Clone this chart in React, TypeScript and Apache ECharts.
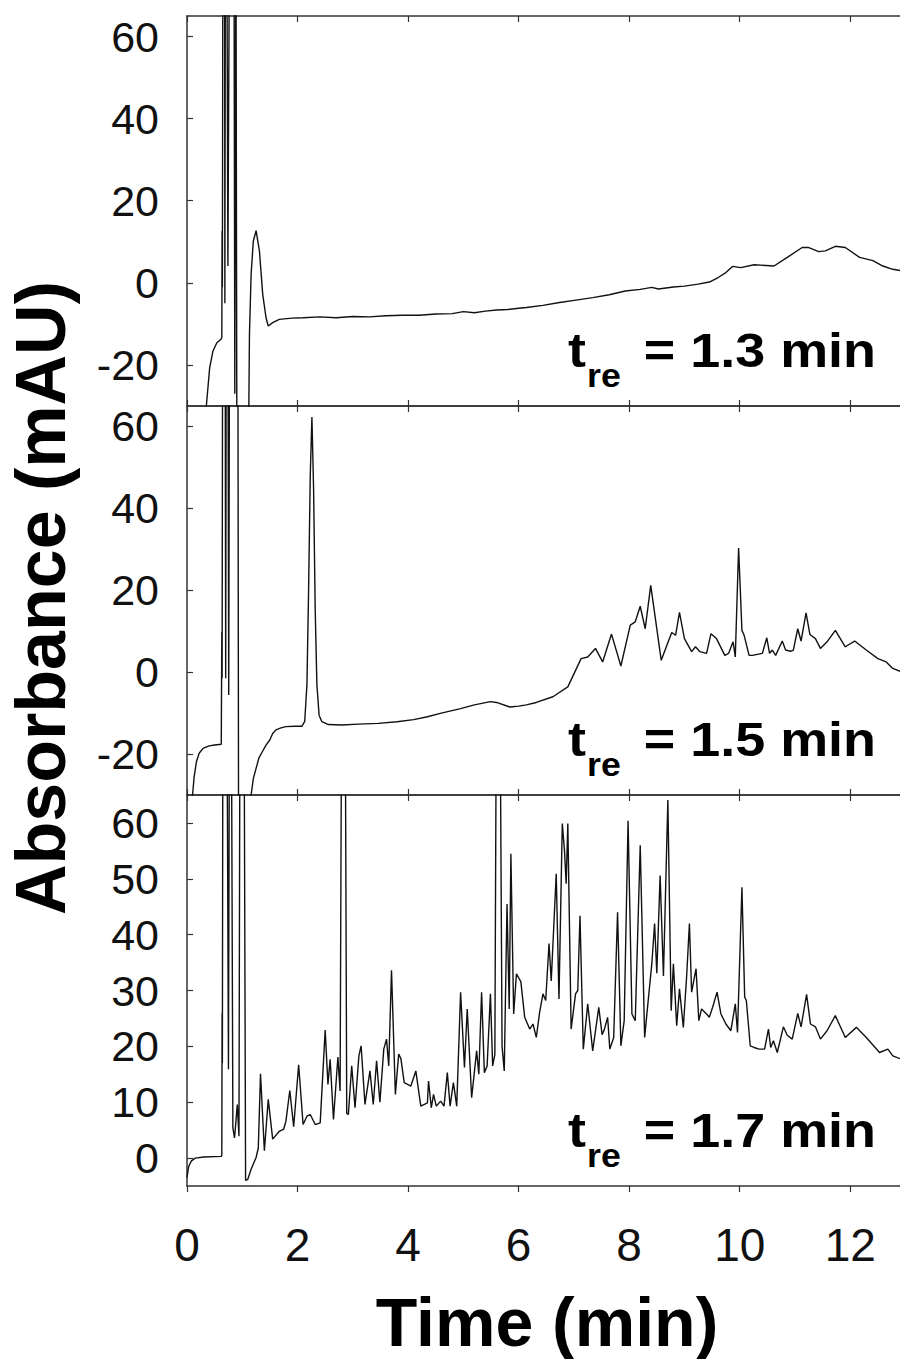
import React, { useEffect, useRef } from "react";
import * as echarts from "echarts";

const FONT = "'Liberation Sans', Arial, Helvetica, sans-serif";

// x axis (Time, min)
const timeTicks = [0, 2, 4, 6, 8, 10, 12];
const xMin = 0;
const xMax = 12.9;

// y axes (Absorbance, mAU)
const yTicksTop = [-20, 0, 20, 40, 60];
const yTicksBottom = [0, 10, 20, 30, 40, 50, 60];

const panelLabels = ["1.3", "1.5", "1.7"];

// values above/below the plotted window are off-scale and clipped
const trace13: [number, number][] = [
  [0, -60], [0.3, -45], [0.35, -30], [0.41, -20.7], [0.47, -16.6], [0.54, -14.6], [0.62, -13.7],
  [0.63, -13.2], [0.635, 12.7], [0.64, -1], [0.65, 90], [0.68, 90], [0.685, -5], [0.695, 90],
  [0.72, 90], [0.74, 4.1], [0.77, 90], [0.85, 90], [0.865, -27], [0.885, 90], [0.895, 90],
  [0.905, -60], [1.1, -60], [1.13, -12.5], [1.16, 2.1], [1.2, 10.2], [1.25, 12.7], [1.31, 7.8],
  [1.37, -2.8], [1.43, -8.5], [1.47, -10.5], [1.55, -9.7], [1.67, -8.9], [1.9, -8.6], [2.1, -8.5],
  [2.4, -8.3], [2.7, -8.5], [3.0, -8.2], [3.3, -8.3], [3.6, -8.0], [3.9, -7.9], [4.2, -7.9],
  [4.5, -7.6], [4.8, -7.5], [5.0, -7.0], [5.2, -7.3], [5.4, -6.9], [5.6, -6.6], [5.8, -6.5],
  [6.0, -6.2], [6.14, -6.0], [6.44, -5.5], [6.74, -4.8], [7.04, -4.2], [7.34, -3.6], [7.64, -2.9],
  [7.93, -2.0], [8.2, -1.6], [8.41, -1.1], [8.53, -1.5], [8.8, -1.0], [9.0, -0.8], [9.25, -0.3],
  [9.45, 0.2], [9.61, 1.3], [9.75, 2.5], [9.87, 4.0], [10.02, 3.7], [10.26, 4.4], [10.62, 4.1],
  [10.86, 6.2], [11.13, 8.6], [11.25, 8.6], [11.43, 7.6], [11.55, 7.8], [11.73, 8.9], [11.91, 8.6],
  [12.17, 6.2], [12.41, 5.4], [12.59, 4.1], [12.77, 3.3], [12.9, 3.0],
];

const trace15: [number, number][] = [
  [0, -60], [0.09, -45], [0.1, -30], [0.13, -25.5], [0.17, -21.9], [0.22, -19.8], [0.29, -18.6],
  [0.4, -18], [0.5, -17.8], [0.62, -17.6], [0.63, 9.8], [0.635, -1.5], [0.645, 90], [0.69, 90],
  [0.7, -1.5], [0.71, 90], [0.74, 90], [0.755, -5.6], [0.77, 90], [0.92, 90], [0.935, -60],
  [1.15, -60], [1.16, -30], [1.2, -26], [1.25, -23.5], [1.3, -21], [1.36, -19.5], [1.43, -17.8],
  [1.5, -16.5], [1.55, -15], [1.61, -14.1], [1.7, -13.6], [1.79, -13.3], [1.95, -13.2], [2.08, -13.2],
  [2.13, -12], [2.17, -3], [2.2, 20], [2.23, 48], [2.26, 62.3], [2.29, 45], [2.32, 15], [2.35, -3],
  [2.39, -10.5], [2.44, -12.1], [2.56, -12.8], [2.8, -12.9], [3.1, -12.7], [3.46, -12.5], [3.8, -12.1],
  [4.1, -11.6], [4.35, -10.9], [4.6, -10.0], [4.95, -8.9], [5.2, -8.0], [5.49, -7.2], [5.6, -7.4],
  [5.84, -8.5], [6.0, -8.3], [6.14, -8.0], [6.32, -7.4], [6.62, -6.0], [6.89, -3.6], [7.13, 3.3],
  [7.25, 3.7], [7.39, 5.8], [7.52, 2.5], [7.68, 9.3], [7.85, 1.5], [8.02, 11.5], [8.11, 12.3],
  [8.2, 16.1], [8.29, 10.6], [8.39, 21.2], [8.58, 2.9], [8.77, 9.7], [8.84, 9.0], [8.91, 14.6],
  [9.0, 8.2], [9.13, 5.0], [9.2, 6.2], [9.28, 5.0], [9.4, 4.6], [9.48, 9.4], [9.58, 8.2], [9.73, 4.1],
  [9.8, 4.6], [9.88, 7.4], [9.92, 3.7], [9.98, 30.3], [10.04, 10.2], [10.08, 9.0], [10.17, 4.1],
  [10.23, 4.1], [10.41, 4.6], [10.49, 8.4], [10.54, 4.6], [10.59, 5.4], [10.65, 4.1], [10.77, 7.6],
  [10.83, 5.4], [10.92, 5.1], [10.97, 5.4], [11.05, 10.6], [11.11, 7.6], [11.2, 14.5], [11.27, 9.2],
  [11.37, 8.2], [11.46, 5.8], [11.58, 7.4], [11.73, 10.2], [11.91, 6.2], [12.08, 7.6], [12.29, 5.4],
  [12.5, 3.3], [12.65, 2.5], [12.77, 0.9], [12.9, 0.2],
];

const trace17: [number, number][] = [
  [0, -3.5], [0.03, -1.5], [0.08, -0.5], [0.15, 0], [0.3, 0.2], [0.62, 0.3], [0.63, 0.5],
  [0.635, 25.9], [0.64, 17], [0.65, 90], [0.72, 90], [0.75, 15.9], [0.77, 90], [0.8, 90],
  [0.83, 5.4], [0.86, 3.6], [0.91, 9.6], [0.94, 3.9], [0.96, 90], [1.03, 90], [1.06, -4],
  [1.1, -3.8], [1.16, -2.0], [1.25, 0.1], [1.29, 1.8], [1.33, 15.1], [1.4, 1.3], [1.47, 10.5],
  [1.55, 3.4], [1.67, 4.8], [1.75, 5.2], [1.79, 6.6], [1.86, 12.1], [1.93, 5.6], [2.02, 16.7],
  [2.1, 6.0], [2.17, 7.5], [2.23, 7.8], [2.32, 6.0], [2.41, 6.3], [2.5, 22.9], [2.55, 13.2],
  [2.59, 17.7], [2.65, 6.9], [2.73, 18.1], [2.77, 12], [2.8, 90], [2.86, 90], [2.89, 8],
  [2.92, 7.8], [2.98, 16.5], [3.04, 9.0], [3.11, 18.3], [3.15, 20.1], [3.22, 9.6], [3.31, 15.6],
  [3.37, 9.6], [3.43, 17.4], [3.49, 10.0], [3.56, 19.5], [3.61, 21.3], [3.65, 16.5], [3.7, 33.6],
  [3.77, 11.4], [3.83, 18.6], [3.87, 17.8], [3.93, 13.5], [4.05, 12.9], [4.14, 15.6], [4.23, 9.3],
  [4.35, 9.9], [4.37, 13.8], [4.42, 9.0], [4.46, 11.4], [4.51, 9.3], [4.59, 10.2], [4.65, 9.3],
  [4.71, 15.3], [4.76, 9.3], [4.82, 13.5], [4.88, 9.3], [4.95, 29.7], [5.02, 16.2], [5.07, 26.7],
  [5.15, 10.8], [5.24, 19.2], [5.28, 15], [5.33, 29.7], [5.38, 15.3], [5.43, 16.5], [5.49, 29.4],
  [5.53, 16.5], [5.57, 18.5], [5.6, 90], [5.66, 90], [5.7, 20], [5.74, 15.6], [5.79, 45.5],
  [5.83, 26.7], [5.86, 54.5], [5.91, 25.8], [5.96, 33.0], [6.04, 31.6], [6.11, 25.2], [6.2, 23.1],
  [6.26, 24], [6.32, 21.6], [6.38, 26.1], [6.44, 29.4], [6.49, 28.2], [6.55, 38.4], [6.59, 31.7],
  [6.68, 50.9], [6.73, 28.5], [6.79, 59.9], [6.83, 55.0], [6.86, 49.1], [6.89, 59.9], [6.95, 23.1],
  [7.03, 29.4], [7.07, 30.0], [7.11, 43.4], [7.17, 19.5], [7.25, 27.6], [7.34, 19.2], [7.45, 27],
  [7.51, 22.1], [7.55, 23], [7.61, 25.2], [7.65, 19.5], [7.72, 21.6], [7.79, 44.0], [7.85, 20.1],
  [7.91, 24.6], [7.98, 60.4], [8.05, 25.8], [8.11, 24.6], [8.2, 56.0], [8.28, 21.6], [8.35, 28.8],
  [8.41, 34.8], [8.46, 42.0], [8.5, 33.1], [8.56, 50.6], [8.62, 32.6], [8.7, 64.1], [8.76, 26.4],
  [8.8, 34.8], [8.86, 23.7], [8.91, 30.3], [8.98, 23.4], [9.04, 32.6], [9.09, 42.0], [9.13, 29.7],
  [9.21, 33.9], [9.26, 24.6], [9.31, 26.7], [9.4, 25.8], [9.45, 25.2], [9.51, 27], [9.59, 29.7],
  [9.66, 25.8], [9.75, 24.0], [9.84, 22.8], [9.92, 27.6], [9.96, 22.5], [10.04, 48.5], [10.09, 28.8],
  [10.12, 28.2], [10.19, 20.1], [10.26, 19.8], [10.35, 19.5], [10.45, 19.5], [10.52, 23.1],
  [10.56, 19.8], [10.61, 21], [10.68, 18.9], [10.79, 23.5], [10.86, 22], [10.95, 21.3], [11.05, 25.9],
  [11.11, 23.5], [11.21, 29.3], [11.28, 24], [11.37, 23.5], [11.46, 21.3], [11.58, 22.8], [11.73, 25.5],
  [11.91, 21.6], [12.11, 23.4], [12.29, 21.6], [12.53, 18.9], [12.68, 19.5], [12.77, 18.3], [12.9, 17.8],
];

const traces = [trace13, trace15, trace17];

const panels = [
  { top: 16, height: 390, min: -30, max: 65, ticks: yTicksTop },
  { top: 406, height: 389, min: -30, max: 65, ticks: yTicksTop },
  { top: 795, height: 391, min: -5, max: 65, ticks: yTicksBottom },
];

const GRID_LEFT = 187;
const GRID_WIDTH = 720;
const AXIS_COLOR = "#333";
const TEXT_COLOR = "#111";

function buildOption() {
  const grid: any[] = [];
  const xAxis: any[] = [];
  const yAxis: any[] = [];
  const series: any[] = [];
  const graphic: any[] = [];

  panels.forEach((p, i) => {
    grid.push({ left: GRID_LEFT, top: p.top, width: GRID_WIDTH, height: p.height, show: false, containLabel: false });
    const last = i === panels.length - 1;
    // bottom axis
    xAxis.push({
      type: "value", gridIndex: i, position: "bottom", min: xMin, max: xMax,
      axisLine: { show: true, onZero: false, lineStyle: { color: AXIS_COLOR, width: 1.5 } },
      axisTick: { show: true, inside: !last, length: 6, customValues: timeTicks, lineStyle: { color: AXIS_COLOR, width: 1.2 } },
      axisLabel: {
        show: last, customValues: timeTicks, margin: 36, fontSize: 46, fontFamily: FONT, color: TEXT_COLOR,
      },
      splitLine: { show: false },
    });
    // top mirror axis
    xAxis.push({
      type: "value", gridIndex: i, position: "top", min: xMin, max: xMax,
      axisLine: { show: true, onZero: false, lineStyle: { color: AXIS_COLOR, width: 1.5 } },
      axisTick: { show: true, inside: true, length: 6, customValues: timeTicks, lineStyle: { color: AXIS_COLOR, width: 1.2 } },
      axisLabel: { show: false },
      splitLine: { show: false },
    });
    yAxis.push({
      type: "value", gridIndex: i, min: p.min, max: p.max, position: "left",
      axisLine: { show: true, onZero: false, lineStyle: { color: AXIS_COLOR, width: 1.5 } },
      axisTick: { show: true, inside: true, length: 6, customValues: p.ticks, lineStyle: { color: AXIS_COLOR, width: 1.2 } },
      axisLabel: { customValues: p.ticks, margin: 28, fontSize: 43, fontFamily: FONT, color: TEXT_COLOR },
      splitLine: { show: false },
    });
    series.push({
      type: "line", xAxisIndex: i * 2, yAxisIndex: i, data: traces[i],
      showSymbol: false, symbol: "none", clip: true, silent: true,
      lineStyle: { color: "#111", width: 1.4 },
    });

    // t_re label
    const baseline = p.top + p.height - 39;
    const fs = 49;
    graphic.push({
      type: "text", x: 568, y: baseline - 0.3465 * fs, scaleX: 1.1,
      style: { text: "t", fontSize: fs, fontWeight: "bold", fontFamily: FONT, fill: "#000", align: "left", verticalAlign: "middle" },
    });
    graphic.push({
      type: "text", x: 587, y: baseline + 20 - 0.3465 * 34, scaleX: 1.05,
      style: { text: "re", fontSize: 34, fontWeight: "bold", fontFamily: FONT, fill: "#000", align: "left", verticalAlign: "middle" },
    });
    graphic.push({
      type: "text", x: 876, y: baseline - 0.3465 * fs, scaleX: 1.1,
      style: { text: "= " + panelLabels[i] + " min", fontSize: fs, fontWeight: "bold", fontFamily: FONT, fill: "#000", align: "right", verticalAlign: "middle" },
    });
  });

  graphic.push({
    type: "text", x: 41, y: 598, rotation: Math.PI / 2,
    style: { text: "Absorbance (mAU)", fontSize: 70, fontWeight: "bold", fontFamily: FONT, fill: "#000", align: "center", verticalAlign: "middle" },
  });
  graphic.push({
    type: "text", x: 547, y: 1322,
    style: { text: "Time (min)", fontSize: 68, fontWeight: "bold", fontFamily: FONT, fill: "#000", align: "center", verticalAlign: "middle" },
  });

  return {
    animation: false,
    backgroundColor: "#fff",
    grid, xAxis, yAxis, series, graphic,
  };
}

export default function App() {
  const ref = useRef<HTMLDivElement>(null);
  useEffect(() => {
    document.body.style.margin = "0";
    const chart = echarts.init(ref.current as HTMLDivElement, null, { renderer: "svg" });
    chart.setOption(buildOption() as any);
    return () => chart.dispose();
  }, []);
  return <div ref={ref} style={{ width: 900, height: 1359 }} />;
}
